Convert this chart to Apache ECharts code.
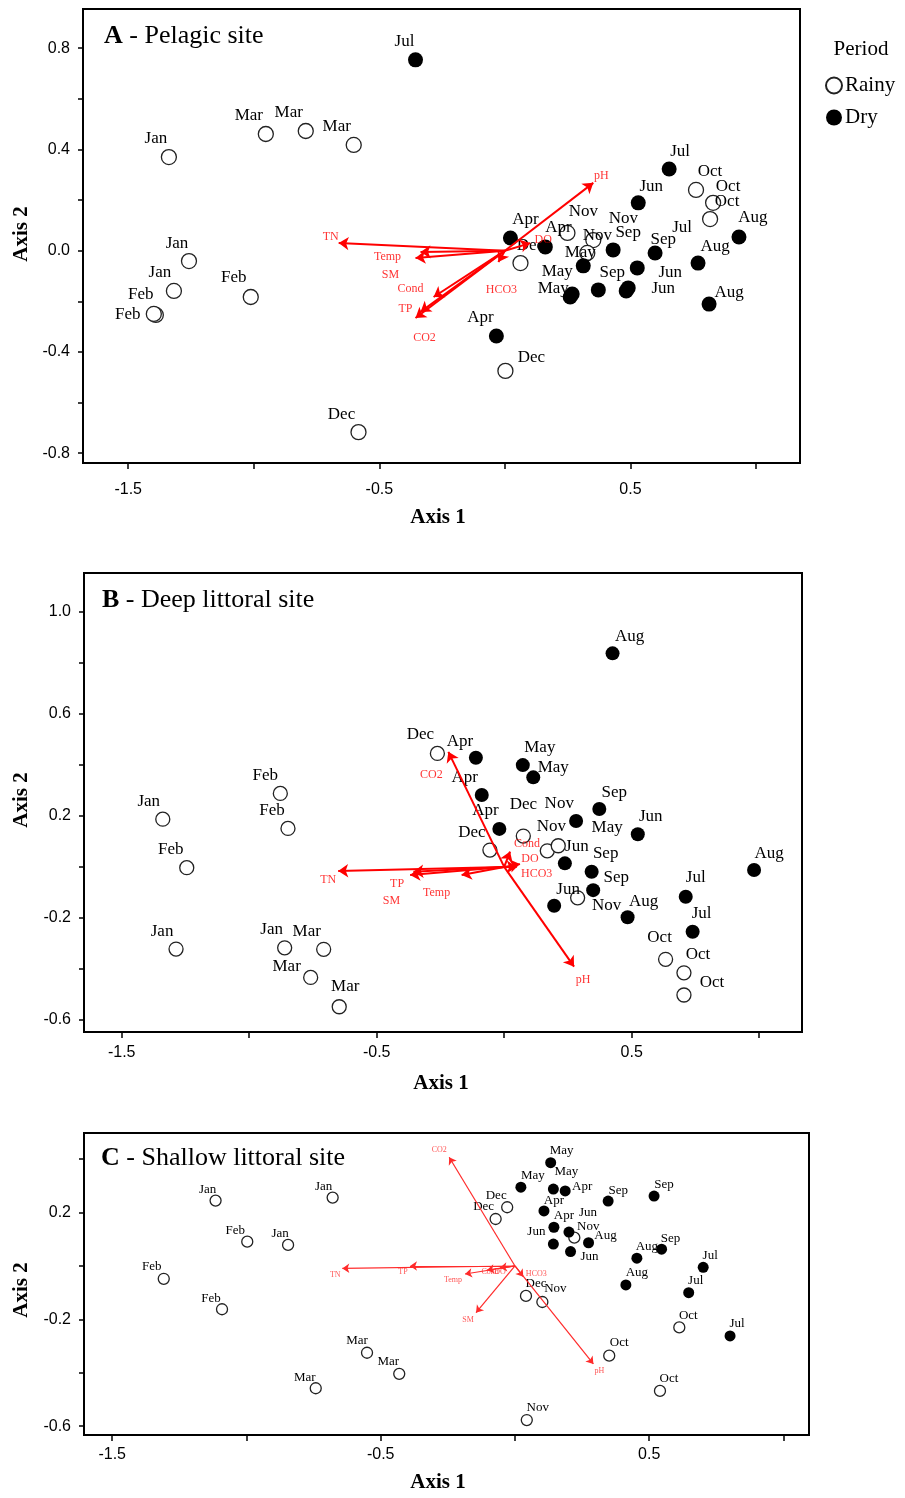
<!DOCTYPE html>
<html><head><meta charset="utf-8">
<script src="https://cdn.jsdelivr.net/npm/echarts@6/dist/echarts.min.js"></script>
<style>html,body{margin:0;padding:0;background:#fff}#c{width:905px;height:1498px}</style>
</head><body><div id="c"></div>
<script>
// ---------- DATA ----------
// Panel A – Pelagic site
const rainyMonthsA = ['Jan','Jan','Jan','Feb','Feb','Feb','Mar','Mar','Mar','Dec','Dec','Dec','Nov','Nov','Nov','Oct','Oct','Oct'];
const rainyXA = [-1.338,-1.258,-1.318,-1.390,-1.398,-1.012,-0.952,-0.793,-0.602,-0.583,0.002,0.062,0.249,0.352,0.328,0.761,0.829,0.817];
const rainyYA = [0.370,-0.041,-0.159,-0.254,-0.250,-0.183,0.461,0.473,0.418,-0.717,-0.475,-0.049,0.070,0.042,-0.009,0.240,0.189,0.125];
const dryMonthsA = ['Apr','Apr','Apr','May','May','May','Jun','Jun','Jun','Jul','Jul','Jul','Aug','Aug','Aug','Sep','Sep','Sep'];
const dryXA = [0.022,0.161,-0.034,0.312,0.260,0.268,0.531,0.491,0.483,-0.356,0.654,0.598,0.769,0.932,0.813,0.431,0.527,0.372];
const dryYA = [0.050,0.015,-0.337,-0.060,-0.183,-0.171,0.189,-0.147,-0.159,0.754,0.323,-0.009,-0.049,0.054,-0.211,0.003,-0.068,-0.155];
const vecNamesA = ['TN','Temp','SM','Cond','TP','CO2','HCO3','DO','pH'];
const vecXA = [-0.662,-0.336,-0.356,-0.284,-0.336,-0.356,-0.026,0.101,0.352];
const vecYA = [0.030,-0.005,-0.029,-0.183,-0.242,-0.266,-0.045,0.030,0.268];

// Panel B – Deep littoral site
const rainyMonthsB = ['Jan','Feb','Jan','Feb','Feb','Jan','Mar','Mar','Mar','Dec','Dec','Dec','Nov','Nov','Nov','Oct','Oct','Oct'];
const rainyXB = [-1.339,-1.245,-1.287,-0.878,-0.848,-0.861,-0.708,-0.759,-0.647,-0.262,-0.056,0.075,0.169,0.212,0.288,0.633,0.705,0.705];
const rainyYB = [0.187,-0.003,-0.322,0.288,0.151,-0.317,-0.323,-0.433,-0.548,0.445,0.066,0.121,0.063,0.083,-0.121,-0.362,-0.415,-0.502];
const dryMonthsB = ['Aug','Apr','Apr','Apr','May','May','May','Jun','Jun','Jun','Jul','Jul','Aug','Aug','Sep','Sep','Sep'];
const dryXB = [0.425,-0.111,-0.088,-0.019,0.073,0.114,0.282,0.524,0.238,0.196,0.712,0.739,0.484,0.980,0.373,0.343,0.349];
const dryYB = [0.837,0.428,0.282,0.149,0.399,0.351,0.180,0.128,0.014,-0.152,-0.117,-0.254,-0.197,-0.012,0.227,-0.019,-0.091];
const vecNamesB = ['TN','TP','SM','Temp','Cond','DO','HCO3','CO2','pH'];
const vecXB = [-0.651,-0.369,-0.356,-0.167,0.023,0.062,0.049,-0.219,0.274];
const vecYB = [-0.016,-0.032,-0.019,-0.032,0.060,0.011,0.000,0.451,-0.391];

// Panel C – Shallow littoral site
const rainyMonthsC = ['Jan','Jan','Jan','Feb','Feb','Feb','Mar','Mar','Mar','Dec','Dec','Dec','Nov','Nov','Nov','Oct','Oct','Oct'];
const rainyXC = [-1.115,-0.679,-0.845,-0.997,-1.308,-1.091,-0.551,-0.431,-0.742,-0.029,-0.072,0.041,0.102,0.221,0.044,0.612,0.351,0.540];
const rainyYC = [0.245,0.256,0.079,0.091,-0.048,-0.162,-0.325,-0.404,-0.458,0.220,0.176,-0.112,-0.135,0.106,-0.577,-0.230,-0.336,-0.468];
const dryMonthsC = ['May','May','May','Apr','Apr','Apr','Jun','Jun','Jun','Aug','Aug','Aug','Sep','Sep','Sep','Jul','Jul','Jul'];
const dryXC = [0.133,0.022,0.143,0.187,0.108,0.145,0.201,0.143,0.207,0.274,0.454,0.413,0.347,0.518,0.546,0.701,0.647,0.801];
const dryYC = [0.387,0.295,0.288,0.281,0.206,0.145,0.127,0.082,0.054,0.087,0.029,-0.071,0.243,0.262,0.063,-0.005,-0.100,-0.262];
const vecNamesC = ['TN','TP','Temp','Cond','DO','HCO3','SM','CO2','pH'];
const vecXC = [-0.643,-0.391,-0.186,-0.104,-0.056,0.031,-0.145,-0.245,0.292];
const vecYC = [-0.009,0.000,-0.030,-0.015,-0.007,-0.040,-0.175,0.407,-0.367];

// Tick values and labels
const xTicks = [-1.5,-1.0,-0.5,0,0.5,1.0];
const xTickLabels = [-1.5,-0.5,0.5];
const yTicksA = [-0.8,-0.6,-0.4,-0.2,0,0.2,0.4,0.6,0.8];
const yTickLabelsA = [-0.8,-0.4,0,0.4,0.8];
const yTicksB = [-0.6,-0.4,-0.2,0,0.2,0.4,0.6,0.8,1.0];
const yTickLabelsB = [-0.6,-0.2,0.2,0.6,1.0];
const yTicksC = [-0.6,-0.4,-0.2,0,0.2,0.4];
const yTickLabelsC = [-0.6,-0.2,0.2];

// ---------- LAYOUT (label offsets in px, not data) ----------
const rainyLabA = [[-13,-19],[-12,-18],[-14,-18],[-15,-20],[-26,1],[-17,-19],[-17,-18],[-17,-18],[-17,-18],[-17,-18],[26,-13],[10,-18],[16,-21],[30,-22],[10,-17],[14,-18],[15,-16],[17,-18]];
const dryLabA = [[15,-18],[13,-19],[-16,-18],[-3,-13],[-17,-8],[-15,-22],[13,-16],[42,-15],[37,-2],[-11,-18],[11,-17],[27,-25],[17,-17],[14,-19],[20,-12],[15,-17],[26,-28],[14,-17]];
const vecLabA = [[-8,-6],[-33,5],[-25,17],[-23,-8],[-15,-3],[9,20],[3,28],[13,-3],[8,-7]];
const rainyLabB = [[-14,-18],[-16,-18],[-14,-18],[-15,-18],[-16,-18],[-13,-18],[-17,-18],[-24,-11],[6,-20],[-17,-19],[-18,-18],[0,-32],[4,-24],[1,-42],[29,8],[-6,-22],[14,-18],[28,-12]];
const dryLabB = [[17,-17],[-16,-16],[-17,-17],[-14,-18],[17,-18],[20,-10],[31,7],[13,-18],[12,-17],[14,-16],[10,-19],[9,-18],[16,-16],[15,-16],[15,-16],[14,-18],[23,-13]];
const vecLabB = [[-10,9],[-13,9],[-22,29],[-25,18],[17,-8],[10,-5],[20,7],[-17,23],[9,13]];
const rainyLabC = [[-8,-11],[-9,-11],[-8,-11],[-12,-11],[-12,-12],[-11,-11],[-10,-12],[-11,-12],[-11,-11],[-11,-12],[-12,-12],[10,-12],[13,-13],[14,-11],[11,-12],[9,-12],[10,-13],[9,-12]];
const dryLabC = [[11,-12],[12,-12],[13,-17],[17,-4],[10,-10],[10,-12],[19,-19],[-17,-13],[19,5],[17,-7],[10,-12],[11,-12],[10,-11],[10,-11],[9,-11],[7,-12],[7,-12],[7,-12]];
const vecLabC = [[-7,7],[-7,6],[-12,6],[3,2],[0,4],[13,-3],[-8,7],[-10,-7],[6,7]];

const SERIF = 'Liberation Serif';
const NARROW = "'Liberation Sans Narrow', 'Liberation Sans', Arial";

const panels = [
  {grid:{left:83,top:9,width:717,height:454}, xr:[-1.680,1.175], yr:[-0.839,0.955], yT:yTicksA, yL:yTickLabelsA, xMargin:19,
   rM:rainyMonthsA, rX:rainyXA, rY:rainyYA, rL:rainyLabA, dM:dryMonthsA, dX:dryXA, dY:dryYA, dL:dryLabA,
   vN:vecNamesA, vX:vecXA, vY:vecYA, vL:vecLabA, sym:15, fs:17, vfs:12, vw:2, vcol:'#ff0000', arrow:10},
  {grid:{left:84,top:573,width:718,height:459}, xr:[-1.648,1.168], yr:[-0.647,1.152], yT:yTicksB, yL:yTickLabelsB, xMargin:13,
   rM:rainyMonthsB, rX:rainyXB, rY:rainyYB, rL:rainyLabB, dM:dryMonthsB, dX:dryXB, dY:dryYB, dL:dryLabB,
   vN:vecNamesB, vX:vecXB, vY:vecYB, vL:vecLabB, sym:14, fs:17, vfs:12, vw:2, vcol:'#ff0000', arrow:10},
  {grid:{left:84,top:1133,width:725,height:302}, xr:[-1.605,1.095], yr:[-0.633,0.498], yT:yTicksC, yL:yTickLabelsC, xMargin:12,
   rM:rainyMonthsC, rX:rainyXC, rY:rainyYC, rL:rainyLabC, dM:dryMonthsC, dX:dryXC, dY:dryYC, dL:dryLabC,
   vN:vecNamesC, vX:vecXC, vY:vecYC, vL:vecLabC, sym:11, fs:13, vfs:8, vw:1.2, vcol:'#ff2a2a', arrow:7}
];

const grids = [], xAxes = [], yAxes = [], series = [];
const fmt = v => Number(v).toFixed(1);

panels.forEach((p, i) => {
  grids.push(Object.assign({show:true, borderColor:'#000', borderWidth:2, backgroundColor:'transparent', containLabel:false}, p.grid));
  xAxes.push({type:'value', gridIndex:i, min:p.xr[0], max:p.xr[1], position:'bottom',
    axisLine:{show:false, onZero:false}, splitLine:{show:false},
    axisTick:{show:true, length:6, customValues:xTicks, lineStyle:{color:'#000', width:1.5}},
    axisLabel:{show:true, customValues:xTickLabels, formatter:fmt, margin:p.xMargin, color:'#000', fontSize:16, fontFamily:NARROW}});
  yAxes.push({type:'value', gridIndex:i, min:p.yr[0], max:p.yr[1], position:'left',
    axisLine:{show:false, onZero:false}, splitLine:{show:false},
    axisTick:{show:true, length:5, customValues:p.yT, lineStyle:{color:'#000', width:1.5}},
    axisLabel:{show:true, customValues:p.yL, formatter:fmt, margin:13, color:'#000', fontSize:16, fontFamily:NARROW}});

  const mk = (M, X, Y, L) => M.map((m, k) => ({name:m, value:[X[k], Y[k]], label:{offset:L[k]}}));
  const lbl = {show:true, formatter:'{b}', position:'inside', color:'#000', fontFamily:SERIF, fontSize:p.fs, textBorderWidth:0};

  series.push({name:'Rainy', type:'scatter', xAxisIndex:i, yAxisIndex:i, symbol:'circle', symbolSize:p.sym, z:2,
    itemStyle:{color:'#fff', borderColor:'#222', borderWidth:1.3, opacity:1}, label:lbl, emphasis:{disabled:true},
    data:mk(p.rM, p.rX, p.rY, p.rL)});
  series.push({name:'Dry', type:'scatter', xAxisIndex:i, yAxisIndex:i, symbol:'circle', symbolSize:p.sym, z:2,
    itemStyle:{color:'#000', borderColor:'#000', borderWidth:0, opacity:1}, label:lbl, emphasis:{disabled:true},
    data:mk(p.dM, p.dX, p.dY, p.dL)});
  series.push({type:'lines', coordinateSystem:'cartesian2d', xAxisIndex:i, yAxisIndex:i, z:3,
    symbol:['none','arrow'], symbolSize:[1,p.arrow], silent:true,
    lineStyle:{color:p.vcol, width:p.vw, opacity:1, curveness:0},
    data:p.vN.map((n, k) => ({name:n, coords:[[0,0],[p.vX[k], p.vY[k]]]}))});
  series.push({type:'scatter', xAxisIndex:i, yAxisIndex:i, symbolSize:0, z:4, silent:true,
    label:{show:true, formatter:'{b}', position:'inside', color:p.vcol, fontFamily:SERIF, fontSize:p.vfs, textBorderWidth:0},
    data:p.vN.map((n, k) => ({name:n, value:[p.vX[k], p.vY[k]], label:{offset:p.vL[k]}}))});
});

const titleText = (x, y, letter, rest) => ({type:'text', x:x, y:y, silent:true,
  style:{text:'{b|' + letter + '}{n| - ' + rest + '}', fill:'#000', align:'left', verticalAlign:'middle',
    rich:{b:{fontWeight:'bold', fontSize:26, fontFamily:SERIF, fill:'#000'}, n:{fontSize:26, fontFamily:SERIF, fill:'#000'}}}});
const plain = (x, y, t, size, weight, rot) => ({type:'text', x:x, y:y, rotation:rot || 0, silent:true,
  style:{text:t, fill:'#000', align:'center', verticalAlign:'middle', font:(weight || 'normal') + ' ' + size + 'px ' + SERIF}});

const graphics = [
  titleText(104, 36, 'A', 'Pelagic site'),
  titleText(102, 600, 'B', 'Deep littoral site'),
  titleText(101, 1158, 'C', 'Shallow littoral site'),
  plain(438, 518, 'Axis 1', 21, 'bold'),
  plain(441, 1084, 'Axis 1', 21, 'bold'),
  plain(438, 1483, 'Axis 1', 21, 'bold'),
  plain(22, 234, 'Axis 2', 21, 'bold', Math.PI/2),
  plain(22, 800, 'Axis 2', 21, 'bold', Math.PI/2),
  plain(22, 1290, 'Axis 2', 21, 'bold', Math.PI/2),
  plain(861, 49, 'Period', 21, 'normal')
];

const chart = echarts.init(document.getElementById('c'), null, {renderer:'canvas', width:905, height:1498});
chart.setOption({
  backgroundColor:'#fff',
  animation:false,
  legend:{data:['Rainy','Dry'], orient:'vertical', left:825, top:75, itemWidth:16, itemHeight:16, itemGap:11, padding:0,
    icon:'circle', selectedMode:false, textStyle:{fontFamily:SERIF, fontSize:21, color:'#000', padding:[0,0,0,-2]}},
  grid:grids, xAxis:xAxes, yAxis:yAxes, series:series, graphic:graphics
});
</script></body></html>
